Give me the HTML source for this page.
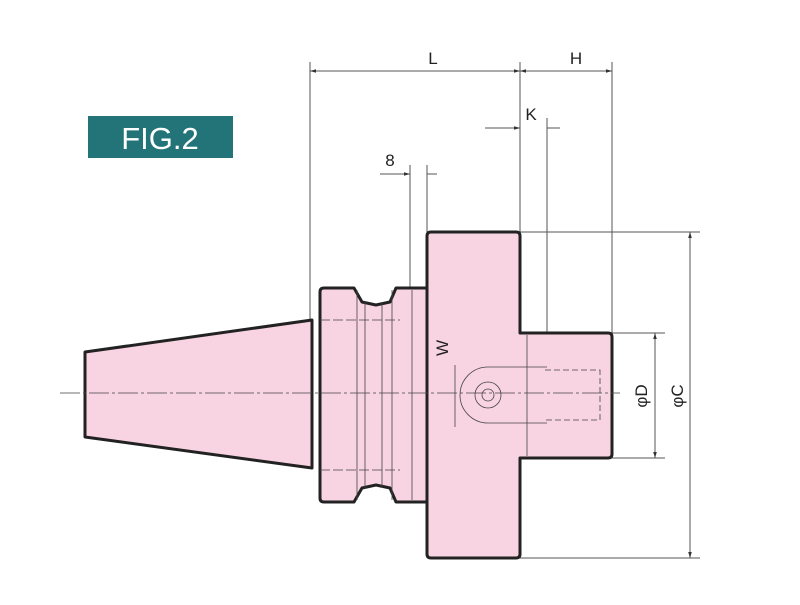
<!DOCTYPE html>
<html><head><style>body{margin:0;background:#fff}</style></head><body>
<svg width="800" height="600" viewBox="0 0 800 600" xmlns="http://www.w3.org/2000/svg" font-family="Liberation Sans, sans-serif">
<defs><marker id="a" viewBox="0 0 10 10" refX="10" refY="5" markerWidth="6" markerHeight="6" orient="auto-start-reverse"><path d="M0,2 L10,5 L0,8z" fill="#333"/></marker></defs>
<rect x="88" y="116" width="145" height="42" fill="#237479"/>
<text x="160" y="149" font-size="31" fill="#fff" text-anchor="middle">FIG.2</text>
<g stroke="#555" stroke-width="1" fill="none">
<line x1="310" y1="62" x2="310" y2="322"/>
<line x1="520" y1="62" x2="520" y2="232"/>
<line x1="612" y1="62" x2="612" y2="333"/>
<line x1="547" y1="118" x2="547" y2="367"/>
<line x1="410" y1="165" x2="410" y2="290"/>
<line x1="427" y1="165" x2="427" y2="232"/>
<line x1="520" y1="232" x2="700" y2="232"/>
<line x1="520" y1="558" x2="700" y2="558"/>
<line x1="612" y1="333" x2="665" y2="333"/>
<line x1="612" y1="458" x2="665" y2="458"/>
<line x1="310" y1="71" x2="520" y2="71" marker-start="url(#a)" marker-end="url(#a)"/>
<line x1="520" y1="71" x2="612" y2="71" marker-start="url(#a)" marker-end="url(#a)"/>
<line x1="485" y1="128" x2="520" y2="128" marker-end="url(#a)"/>
<line x1="547" y1="128" x2="560" y2="128"/>
<line x1="380" y1="174" x2="410" y2="174" marker-end="url(#a)"/>
<line x1="427" y1="174" x2="437" y2="174"/>
<line x1="690" y1="232" x2="690" y2="558" marker-start="url(#a)" marker-end="url(#a)"/>
<line x1="655" y1="333" x2="655" y2="458" marker-start="url(#a)" marker-end="url(#a)"/>
</g>
<g fill="#f8d3e2" stroke="#222" stroke-width="3" stroke-linejoin="round">
<path d="M85,352 L312,320 L312,468 L85,437 Z"/>
<path d="M320,292 Q320,288 324,288 L354,288 L362,302 L376,305 L390,302 L396,288 L427,288 L427,502 L396,502 L390,488 L376,485 L362,488 L354,502 L324,502 Q320,502 320,498 Z"/>
<path d="M427,236 Q427,232 431,232 L516,232 Q520,232 520,236 L520,333 L608,333 Q612,333 612,337 L612,454 Q612,458 608,458 L520,458 L520,554 Q520,558 516,558 L431,558 Q427,558 427,554 Z"/>
</g>
<g stroke="#444" stroke-width="0.8" fill="none">
<line x1="357" y1="290" x2="357" y2="500"/><line x1="365" y1="302" x2="365" y2="488"/>
<line x1="382" y1="302" x2="382" y2="488"/><line x1="392" y1="290" x2="392" y2="500"/>
<line x1="412" y1="290" x2="412" y2="500"/>
<line x1="527" y1="335" x2="527" y2="456"/>
<path d="M547,367 L488,367 A28,28 0 0 0 488,423 L547,423"/>
<circle cx="488" cy="395" r="13"/><circle cx="488" cy="395" r="6"/>
<line x1="455" y1="365" x2="455" y2="427"/>
<path d="M545,370 L600,370 L600,420 L545,420" stroke-dasharray="6,3"/>
<path d="M320,320 L400,320 M320,470 L400,470" stroke-dasharray="10,3"/>
<line x1="60" y1="393" x2="620" y2="393" stroke-dasharray="20,3,3,3"/>
</g>
<g font-size="17" fill="#222">
<text x="433" y="64" text-anchor="middle">L</text>
<text x="576" y="64" text-anchor="middle">H</text>
<text x="531" y="120" text-anchor="middle">K</text>
<text x="390" y="166" text-anchor="middle">8</text>
<text transform="translate(448,348) rotate(-90)" text-anchor="middle">W</text>
<text transform="translate(647,396) rotate(-90)" text-anchor="middle">φD</text>
<text transform="translate(683,396) rotate(-90)" text-anchor="middle">φC</text>
</g>
</svg>
</body></html>
